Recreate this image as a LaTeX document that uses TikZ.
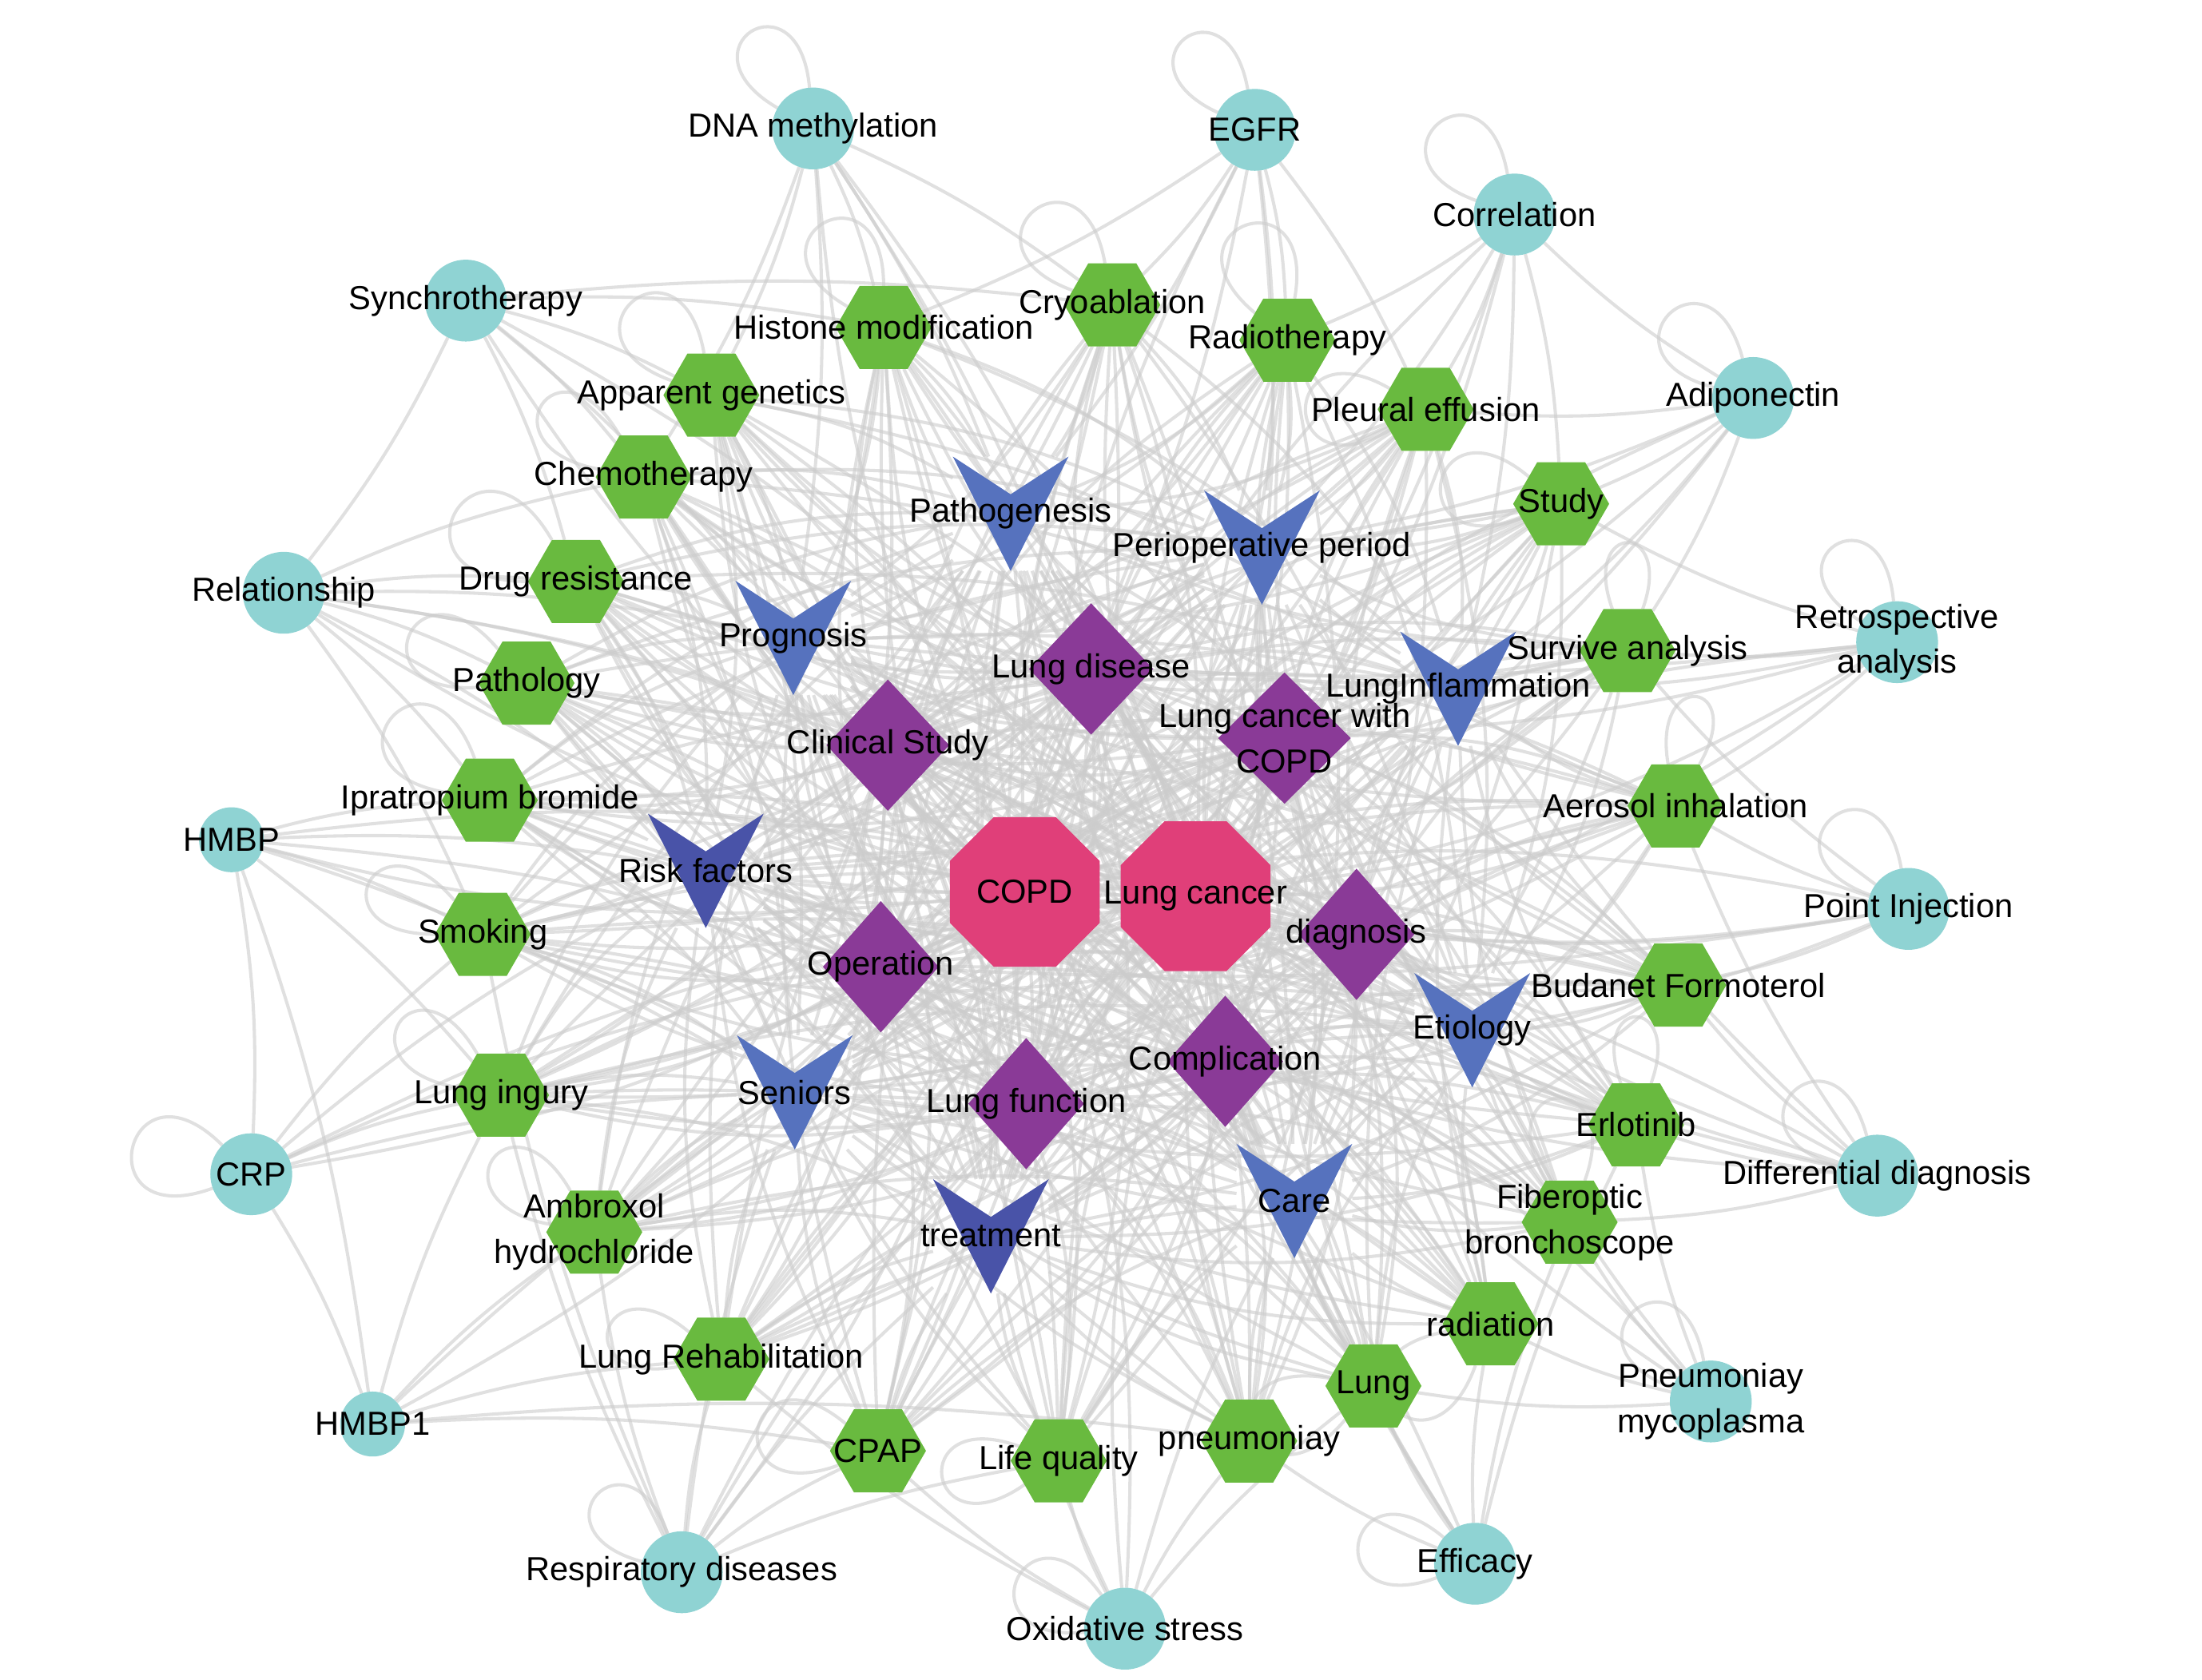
\documentclass[tikz,border=0pt]{standalone}
\usepackage{fontspec}
\setmainfont{Liberation Sans}
\usetikzlibrary{shapes.geometric,calc}
\definecolor{term-cyan}{HTML}{8FD3D3}
\definecolor{term-green}{HTML}{69BA3F}
\definecolor{term-blue}{HTML}{5672BE}
\definecolor{term-navy}{HTML}{4953A8}
\definecolor{term-purple}{HTML}{8A3A97}
\definecolor{term-pink}{HTML}{E03F79}
\pgfdeclarelayer{edges}
\pgfdeclarelayer{vshapes}
\pgfsetlayers{edges,vshapes,main}
\tikzset{
    term-label/.style = {font=\fontsize{11.8}{16}\selectfont, align=center, inner sep=0pt},
    term/.style = {inner sep=0pt, outer sep=0pt, label={[term-label]center:#1}},
    cyan-circle/.style = {term={#1}, circle, fill=term-cyan, minimum size=29pt},
    small-circle/.style = {cyan-circle={#1}, minimum size=23pt},
    green-hex/.style = {term={#1}, regular polygon, regular polygon sides=6, fill=term-green, minimum size=34pt},
    pink-octagon/.style = {term={#1}, regular polygon, regular polygon sides=8, fill=term-pink, minimum size=57.4pt},
    purple-diamond/.style = {term={#1}, diamond, fill=term-purple, minimum width=41pt, minimum height=46.5pt},
    blue-v/.style = {term={#1}, rectangle, minimum width=41pt, minimum height=40.5pt},
    link/.style = {draw=black!20, opacity=0.6, line width=1.15pt},
    every loop/.style = {min distance=26pt},
}

\begin{document}
\begin{tikzpicture}[x=0.5pt, y=-0.5pt]
\useasboundingbox (0,0) rectangle (1560,1190);

% outer ring
\node[cyan-circle={DNA methylation}] (dna) at (576,91) {};
\node[cyan-circle={EGFR}] (egfr) at (889,92) {};
\node[cyan-circle={Correlation}] (corr) at (1073,152) {};
\node[cyan-circle={Adiponectin}] (adipo) at (1242,282) {};
\node[cyan-circle={Retrospective\\analysis}] (retro) at (1344,455) {};
\node[cyan-circle={Point Injection}] (point) at (1352,644) {};
\node[cyan-circle={Differential diagnosis}] (diff) at (1330,833) {};
\node[cyan-circle={Pneumoniay\\mycoplasma}] (pneumo) at (1212,993) {};
\node[cyan-circle={Efficacy}] (effic) at (1045,1108) {};
\node[cyan-circle={Oxidative stress}] (oxid) at (797,1154) {};
\node[cyan-circle={Respiratory diseases}] (resp) at (483,1114) {};
\node[small-circle={HMBP1}] (hmbp1) at (264,1009) {};
\node[cyan-circle={CRP}] (crp) at (178,832) {};
\node[small-circle={HMBP}] (hmbp) at (164,595) {};
\node[cyan-circle={Relationship}] (relat) at (201,420) {};
\node[cyan-circle={Synchrotherapy}] (synch) at (330,213) {};

% hexagons
\node[green-hex={Histone modification}] (histone) at (626,232) {};
\node[green-hex={Cryoablation}] (cryo) at (788,216) {};
\node[green-hex={Radiotherapy}] (radio) at (912,241) {};
\node[green-hex={Pleural effusion}] (pleural) at (1010,290) {};
\node[green-hex={Study}] (study) at (1106,357) {};
\node[green-hex={Survive analysis}] (surv) at (1153,461) {};
\node[green-hex={Aerosol inhalation}] (aerosol) at (1187,571) {};
\node[green-hex={Budanet Formoterol}] (budan) at (1189,698) {};
\node[green-hex={Erlotinib}] (erlo) at (1159,797) {};
\node[green-hex={Fiberoptic\\bronchoscope}] (fiber) at (1112,866) {};
\node[green-hex={radiation}] (radiat) at (1056,938) {};
\node[green-hex={Lung}] (lung) at (973,982) {};
\node[green-hex={pneumoniay}] (pneumy) at (885,1021) {};
\node[green-hex={Life quality}] (lifeq) at (750,1035) {};
\node[green-hex={CPAP}] (cpap) at (622,1028) {};
\node[green-hex={Lung Rehabilitation}] (rehab) at (511,963) {};
\node[green-hex={Ambroxol\\hydrochloride}] (ambrox) at (421,873) {};
\node[green-hex={Lung ingury}] (ingury) at (355,776) {};
\node[green-hex={Smoking}] (smoke) at (342,662) {};
\node[green-hex={Ipratropium bromide}] (ipra) at (347,567) {};
\node[green-hex={Pathology}] (patho) at (373,484) {};
\node[green-hex={Drug resistance}] (drug) at (408,412) {};
\node[green-hex={Chemotherapy}] (chemo) at (456,338) {};
\node[green-hex={Apparent genetics}] (apparent) at (504,280) {};

% V marks
\node[blue-v={Pathogenesis}] (pathog) at (716,364) {};
\node[blue-v={Perioperative period}] (periop) at (894,388) {};
\node[blue-v={Prognosis}] (progn) at (562,452) {};
\node[blue-v={LungInflammation}] (inflam) at (1033,488) {};
\node[blue-v={Risk factors}] (risk) at (500,617) {};
\node[blue-v={Etiology}] (etiol) at (1043,730) {};
\node[blue-v={Seniors}] (senior) at (563,774) {};
\node[blue-v={treatment}] (treat) at (702,876) {};
\node[blue-v={Care}] (care) at (917,851) {};

% diamonds
\node[purple-diamond={Lung disease}, minimum width=44pt] (lungdis) at (773,474) {};
\node[purple-diamond={Clinical Study}, minimum width=43.5pt] (clin) at (629,528) {};
\node[purple-diamond={Lung cancer with\\COPD}, minimum width=47pt] (lcwc) at (910,523) {};
\node[purple-diamond={diagnosis}] (diag) at (961,662) {};
\node[purple-diamond={Operation}] (oper) at (624,685) {};
\node[purple-diamond={Complication}] (compl) at (868,752) {};
\node[purple-diamond={Lung function}] (lungfun) at (727,782) {};

% hubs
\node[pink-octagon={COPD}] (copd) at (726,632) {};
\node[pink-octagon={Lung cancer}] (lc) at (847,635) {};

\begin{pgfonlayer}{vshapes}
\foreach \v in {pathog,periop,progn,inflam,etiol,senior,care}
  \fill[term-blue] (\v.north west) -- ($(\v.north)!0.33!(\v.south)$) -- (\v.north east) -- (\v.south) -- cycle;
\foreach \v in {risk,treat}
  \fill[term-navy] (\v.north west) -- ($(\v.north)!0.33!(\v.south)$) -- (\v.north east) -- (\v.south) -- cycle;
\end{pgfonlayer}

\begin{pgfonlayer}{edges}
% hubs to every term
\draw[link] (copd) to[bend left=20] (lc);
\foreach \t in {dna,egfr,corr,adipo,retro,point,diff,pneumo,effic,oxid,resp,hmbp1,crp,hmbp,relat,synch,
    histone,cryo,radio,pleural,study,surv,aerosol,budan,erlo,fiber,radiat,lung,pneumy,lifeq,cpap,rehab,ambrox,ingury,smoke,ipra,patho,drug,chemo,apparent,
    pathog,periop,progn,inflam,risk,etiol,senior,treat,care,lungdis,clin,lcwc,diag,oper,compl,lungfun} {
  \draw[link] (copd) to[bend left=10] (\t);
  \draw[link] (lc) to[bend right=10] (\t);
}
% diamonds
\foreach \d in {lungdis,clin,lcwc,diag,oper,compl,lungfun}
  \foreach \t in {pathog,periop,progn,inflam,risk,etiol,senior,treat,care,
      histone,cryo,radio,pleural,study,surv,aerosol,budan,erlo,fiber,radiat,lung,pneumy,lifeq,cpap,rehab,ambrox,ingury,smoke,ipra,patho,drug,chemo,apparent}
    \draw[link] (\d) to[bend left=12] (\t);
\foreach \a/\b in {lungdis/clin,lungdis/lcwc,lungdis/diag,lungdis/oper,lungdis/compl,lungdis/lungfun,clin/lcwc,clin/diag,clin/oper,clin/compl,clin/lungfun,
    lcwc/diag,lcwc/oper,lcwc/compl,lcwc/lungfun,diag/oper,diag/compl,diag/lungfun,oper/compl,oper/lungfun,compl/lungfun}
  \draw[link] (\a) to[bend right=14] (\b);
% V marks
\foreach \v in {pathog,periop,progn,inflam,risk,etiol,senior,treat,care}
  \foreach \t in {histone,cryo,radio,pleural,study,surv,aerosol,budan,erlo,fiber,radiat,lung,pneumy,lifeq,cpap,rehab,ambrox,ingury,smoke,ipra,patho,drug,chemo,apparent}
    \draw[link] (\v) to[bend right=10] (\t);
% outer ring
\foreach \a/\b in {synch/relat,synch/histone,synch/cryo,synch/chemo,synch/apparent,synch/drug,synch/progn,
    relat/drug,relat/patho,relat/ipra,relat/smoke,relat/risk,relat/clin,relat/progn,relat/chemo,
    hmbp/crp,hmbp/hmbp1,hmbp/smoke,hmbp/risk,hmbp/ipra,hmbp/oper,hmbp/ingury,hmbp/senior,
    crp/hmbp1,crp/ingury,crp/smoke,crp/senior,crp/oper,crp/risk,
    hmbp1/ingury,hmbp1/ambrox,hmbp1/pneumy,hmbp1/cpap,hmbp1/rehab,
    resp/ambrox,resp/smoke,resp/ingury,resp/rehab,resp/cpap,resp/treat,resp/senior,resp/lungfun,resp/lifeq,
    oxid/cpap,oxid/lifeq,oxid/pneumy,oxid/rehab,oxid/treat,oxid/care,oxid/lung,
    effic/lung,effic/radiat,effic/fiber,effic/care,effic/erlo,effic/pneumy,effic/compl,
    pneumo/fiber,pneumo/erlo,pneumo/etiol,pneumo/radiat,pneumo/lung,
    diff/budan,diff/aerosol,diff/etiol,diff/erlo,diff/diag,diff/compl,diff/fiber,diff/inflam,
    point/aerosol,point/budan,point/diag,point/surv,point/oper,point/etiol,
    retro/surv,retro/inflam,retro/aerosol,retro/study,retro/lcwc,retro/diag,retro/progn,
    adipo/corr,adipo/study,adipo/surv,adipo/pleural,adipo/inflam,adipo/periop,adipo/lcwc,
    corr/pleural,corr/study,corr/radio,corr/periop,corr/lcwc,corr/inflam,
    egfr/cryo,egfr/radio,egfr/pleural,egfr/pathog,egfr/periop,egfr/lungdis,egfr/histone,
    dna/histone,dna/apparent,dna/chemo,dna/pathog,dna/cryo,dna/progn,dna/lungdis}
  \draw[link] (\a) to[bend left=6] (\b);
% self loops
\foreach \n/\o/\i in {dna/150/95,egfr/155/100,corr/160/100,adipo/165/105,retro/150/95,point/160/100,diff/165/105,
    pneumo/160/100,effic/200/140,oxid/185/125,resp/165/110,crp/200/135,cryo/160/100,histone/150/90,radio/140/80,
    pleural/210/150,study/200/140,surv/110/70,aerosol/100/60,apparent/160/100,chemo/170/120,drug/180/120,
    patho/185/130,ipra/170/110,smoke/180/130,ingury/170/120,ambrox/170/120,rehab/190/140,cpap/200/140,
    lifeq/215/160,lung/230/170,radiat/250/190,fiber/120/70,erlo/110/70}
  \draw[link] (\n) to[out=\o,in=\i,loop] (\n);
\end{pgfonlayer}
\end{tikzpicture}
\end{document}
